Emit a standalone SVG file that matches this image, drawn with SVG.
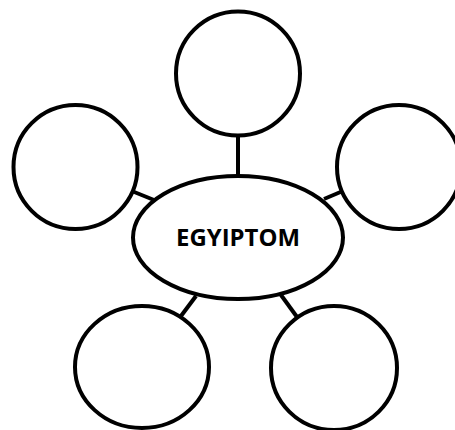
<svg xmlns="http://www.w3.org/2000/svg" width="455" height="430" viewBox="0 0 455 430">
<style>
.n{fill:#fff;stroke:#000;stroke-width:4}
.c line{stroke:#000;stroke-width:4}
.t{font-family:"Open Sans","Liberation Sans",sans-serif;font-weight:bold;font-size:24px;fill:#000}
</style>
<rect width="455" height="430" fill="#fff"/>
<g class="c" id="connectors">
<line x1="238" y1="136" x2="238" y2="176"/>
<line x1="133" y1="191.5" x2="154" y2="200"/>
<line x1="340.5" y1="192" x2="324" y2="199"/>
<line x1="196" y1="296" x2="181" y2="316"/>
<line x1="281" y1="295" x2="297" y2="317"/>
</g>
<g id="top"><circle class="n" cx="238" cy="73.5" r="62"/></g>
<g id="left"><circle class="n" cx="75.5" cy="167" r="62"/></g>
<g id="right"><circle class="n" cx="399" cy="167" r="62"/></g>
<g id="bottom-left"><ellipse class="n" cx="142" cy="367" rx="67" ry="61"/></g>
<g id="bottom-right"><ellipse class="n" cx="334" cy="368" rx="63" ry="62"/></g>
<g id="center"><ellipse class="n" cx="238" cy="237.5" rx="105" ry="61.5"/>
<text class="t" x="238" y="246" text-anchor="middle" textLength="124" lengthAdjust="spacingAndGlyphs">EGYIPTOM</text></g>
</svg>
